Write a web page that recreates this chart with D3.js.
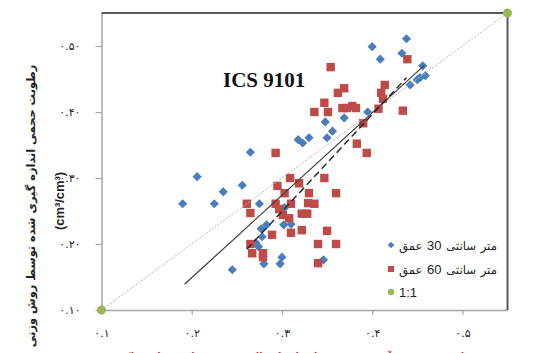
<!DOCTYPE html>
<html>
<head>
<meta charset="utf-8">
<script src="https://cdn.jsdelivr.net/npm/d3@7"></script>
<style>
  body { margin: 0; background: #fff; }
  svg { display: block; }
</style>
</head>
<body>
<svg id="chart" width="533" height="353"></svg>
<script>
// 30 cm depth (blue diamonds)
const depth30X = [0.438, 0.400, 0.433, 0.409, 0.456, 0.459, 0.453, 0.450, 0.442, 0.395,
  0.369, 0.348, 0.356, 0.350, 0.330, 0.323, 0.318, 0.265, 0.206, 0.256,
  0.235, 0.190, 0.225, 0.275, 0.303, 0.283, 0.302, 0.310, 0.277, 0.278,
  0.271, 0.274, 0.300, 0.280, 0.298, 0.245, 0.346];
const depth30Y = [0.511, 0.499, 0.489, 0.480, 0.470, 0.455, 0.452, 0.449, 0.441, 0.400,
  0.391, 0.385, 0.371, 0.361, 0.361, 0.353, 0.358, 0.339, 0.302, 0.289,
  0.279, 0.261, 0.261, 0.261, 0.255, 0.229, 0.229, 0.230, 0.223, 0.211,
  0.202, 0.196, 0.180, 0.170, 0.170, 0.161, 0.176];

// 60 cm depth (red squares)
const depth60X = [0.439, 0.354, 0.369, 0.362, 0.414, 0.410, 0.412, 0.347, 0.336, 0.351,
  0.367, 0.372, 0.378, 0.382, 0.407, 0.434, 0.390, 0.383, 0.394, 0.293,
  0.309, 0.347, 0.295, 0.319, 0.303, 0.330, 0.360, 0.261, 0.293, 0.310,
  0.329, 0.336, 0.265, 0.297, 0.301, 0.308, 0.322, 0.328, 0.289, 0.310,
  0.322, 0.350, 0.265, 0.340, 0.360, 0.267, 0.279, 0.279, 0.340];
const depth60Y = [0.480, 0.468, 0.436, 0.429, 0.441, 0.429, 0.420, 0.414, 0.400, 0.400,
  0.406, 0.406, 0.409, 0.406, 0.405, 0.402, 0.383, 0.352, 0.338, 0.338,
  0.300, 0.300, 0.288, 0.292, 0.277, 0.277, 0.277, 0.261, 0.261, 0.261,
  0.262, 0.261, 0.247, 0.253, 0.244, 0.239, 0.246, 0.246, 0.214, 0.217,
  0.221, 0.220, 0.200, 0.200, 0.200, 0.186, 0.186, 0.180, 0.171];

// 1:1 line and linear trendlines
const oneToOne = [[0.1, 0.1], [0.55, 0.55]];
const trend30 = [[0.192, 0.139], [0.458, 0.471]];
const trend60 = [[0.261, 0.192], [0.438, 0.452]];

const xTicks = [0.1, 0.2, 0.3, 0.4, 0.5];
const yTicks = [0.1, 0.2, 0.3, 0.4, 0.5];
// legend words in the left-to-right order they show in the original
const legendLabels = [["عمق", "30", "سانتی", "متر"], ["عمق", "60", "سانتی", "متر"], ["1:1"]];

const blue = "#4a7ebb", red = "#be4b48", green = "#98b954";
const fa = s => s.replace(/\d/g, d => "۰۱۲۳۴۵۶۷۸۹"[d]);

const svg = d3.select("#chart");
const x = d3.scaleLinear().domain([0.1, 0.55]).range([101.5, 507.5]);
const y = d3.scaleLinear().domain([0.1, 0.55]).range([310, 13]);

// axes
const yAxis = svg.append("g").attr("transform", `translate(${x(0.1)},0)`)
  .call(d3.axisLeft(y).tickValues(yTicks).tickSize(6).tickSizeOuter(0).tickPadding(15)
    .tickFormat(d => fa(d3.format(".2f")(d))));
const xAxis = svg.append("g").attr("transform", `translate(0,${y(0.1)})`)
  .call(d3.axisBottom(x).tickValues(xTicks).tickSize(5).tickSizeOuter(0).tickPadding(14)
    .tickFormat(d => fa(d3.format(".1f")(d))));
[yAxis, xAxis].forEach(g => {
  g.select(".domain").attr("stroke", "#a6a6a6").attr("stroke-width", 1.5);
  g.selectAll(".tick line").attr("stroke", "#a6a6a6").attr("stroke-width", 1.2);
  g.selectAll("text").attr("fill", "#222").style("font-family", "DejaVu Sans, sans-serif").style("font-size", "11px");
});

// top and right frame
svg.append("path")
  .attr("d", `M${x(0.1)},${y(0.55)}H${x(0.55)}V${y(0.1)}`)
  .attr("fill", "none").attr("stroke", "#595959").attr("stroke-width", 2);

const line = d3.line().x(d => x(d[0])).y(d => y(d[1]));

// markers
const diamond = r => `M0,${-r}L${r},0L0,${r}L${-r},0Z`;
svg.append("g").selectAll("path").data(d3.range(depth30X.length)).join("path")
  .attr("d", diamond(4.6))
  .attr("transform", i => `translate(${x(depth30X[i])},${y(depth30Y[i])})`)
  .attr("fill", blue);
svg.append("g").selectAll("rect").data(d3.range(depth60X.length)).join("rect")
  .attr("x", i => x(depth60X[i]) - 4.2).attr("y", i => y(depth60Y[i]) - 4.2)
  .attr("width", 8.4).attr("height", 8.4)
  .attr("fill", red);

// lines
svg.append("path").attr("d", line(oneToOne)).attr("fill", "none")
  .attr("stroke", "#b8b8b8").attr("stroke-width", 1).attr("stroke-dasharray", "2,1.5");
svg.append("path").attr("d", line(trend30)).attr("fill", "none")
  .attr("stroke", "#3a3a3a").attr("stroke-width", 1.2);
svg.append("path").attr("d", line(trend60)).attr("fill", "none")
  .attr("stroke", "#222").attr("stroke-width", 1.4).attr("stroke-dasharray", "7,4");

svg.append("g").selectAll("circle").data(oneToOne).join("circle")
  .attr("cx", d => x(d[0])).attr("cy", d => y(d[1])).attr("r", 4.5)
  .attr("fill", green);

// title
svg.append("text").attr("x", 223).attr("y", 87)
  .style("font-family", "Liberation Serif, Times New Roman, serif")
  .style("font-weight", "bold").style("font-size", "21px").attr("fill", "#111")
  .text("ICS 9101");

// fit text to a target length by adjusting font size
function fit(sel, len) {
  const fs = parseFloat(sel.style("font-size"));
  const w = sel.node().getComputedTextLength();
  sel.style("font-size", (fs * len / w).toFixed(2) + "px");
}

// legend
const leg = svg.append("g");
const ly = [245, 269, 292];
leg.append("path").attr("d", diamond(3.3)).attr("transform", `translate(391,${ly[0]})`).attr("fill", blue);
leg.append("rect").attr("x", 388).attr("y", ly[1] - 3).attr("width", 6).attr("height", 6).attr("fill", red);
leg.append("circle").attr("cx", 391).attr("cy", ly[2]).attr("r", 3.2).attr("fill", green);
const isArabic = w => /[\u0600-\u06FF]/.test(w);
legendLabels.forEach((words, i) => {
  const texts = words.map(w => leg.append("text").attr("y", ly[i] + 4.5)
    .style("font-family", "Liberation Sans, DejaVu Sans, sans-serif").style("font-size", "13px")
    .attr("fill", "#222").text(w));
  const gap = 4.5;
  if (words.length > 1) {
    // scale the Persian words so the whole label spans the original width
    let ar = 0, other = 0;
    texts.forEach((t, j) => { const l = t.node().getComputedTextLength(); if (isArabic(words[j])) ar += l; else other += l; });
    const k = (98 - other - gap * (words.length - 1)) / ar;
    texts.forEach((t, j) => { if (isArabic(words[j])) t.style("font-size", (13 * k).toFixed(2) + "px"); });
  }
  let cx = 399;
  texts.forEach(t => { t.attr("x", cx); cx += t.node().getComputedTextLength() + gap; });
});

// y axis title
const yt1 = svg.append("text").attr("transform", "translate(35,206) rotate(-90)")
  .attr("text-anchor", "middle").style("font-family", "DejaVu Sans, sans-serif")
  .style("font-weight", "bold").style("font-size", "12px").attr("fill", "#222")
  .text("رطوبت حجمی اندازه گیری شده توسط روش وزنی");
fit(yt1, 283);
const yt2 = svg.append("text").attr("transform", "translate(64,201) rotate(-90)")
  .attr("text-anchor", "middle").style("font-family", "Liberation Sans, sans-serif")
  .style("font-weight", "bold").style("font-size", "12px").attr("fill", "#222")
  .text("(cm³/cm³)");
fit(yt2, 58);

// x axis title (cut off by the bottom edge, as in the original)
const xt = svg.append("text").attr("x", 298).attr("y", 360)
  .attr("text-anchor", "middle").style("font-family", "DejaVu Sans, sans-serif")
  .style("font-weight", "bold").style("font-size", "13px").attr("fill", "#e8302a")
  .text("رطوبت حجمی برآورد شده توسط توابع انتقالی در عمق های مختلف خاک");
fit(xt, 355);
</script>
</body>
</html>
